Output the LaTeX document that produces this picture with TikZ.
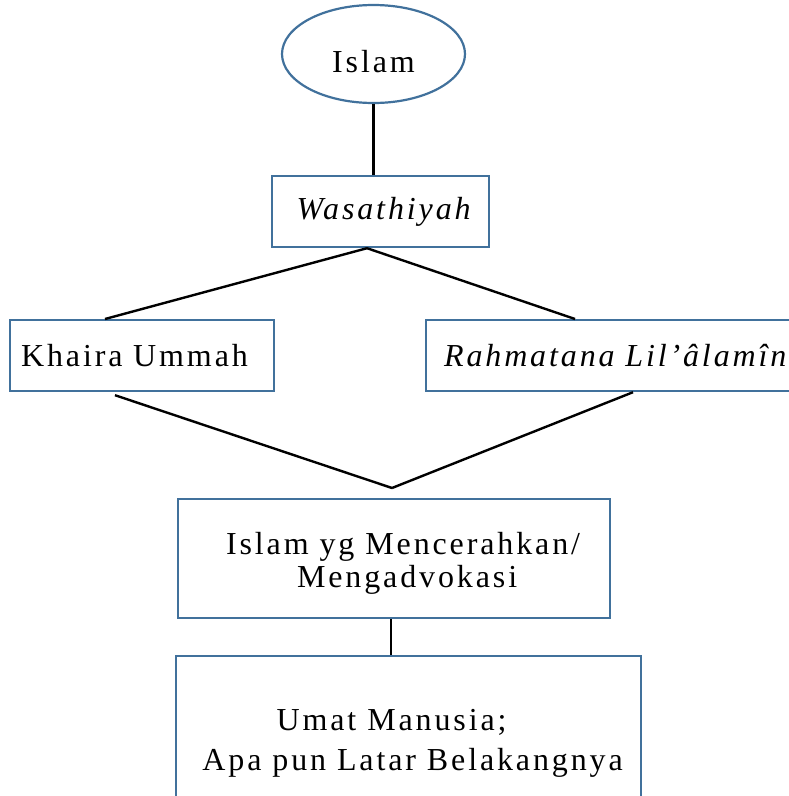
\documentclass[tikz,border=0pt]{standalone}
\usepackage{fontspec}
\setmainfont{Liberation Serif}[LetterSpace=9]
\usetikzlibrary{shapes.geometric,calc}
\definecolor{edgeblue}{RGB}{65,113,156}
\begin{document}
\begin{tikzpicture}[x=1pt,y=-1pt,
  txt/.style={font=\fontsize{32}{33}\selectfont, text=black},
  box/.style={txt, draw=edgeblue, line width=2.2pt, rectangle, inner sep=0pt, anchor=north west},
  oval/.style={txt, draw=edgeblue, line width=2.2pt, ellipse, inner sep=0pt},
  link/.style={draw=black, line width=2.4pt}]
\useasboundingbox (0,0) rectangle (789,796);
\clip (0,0) rectangle (789,796);

% top of the chart
\node[oval, minimum width=183pt, minimum height=98pt,
  label={[txt, yshift=-8pt]center:Islam}] (islam) at (373.5,54) {};
\node[box, minimum width=217pt, minimum height=71pt] (wasa) at (271,175) {\hspace*{6pt}\itshape Wasathiyah};

% the two branches
\node[box, minimum height=71pt, inner xsep=11pt, text width=242pt, align=left] (khaira) at (9,319) {Khaira Ummah};
\node[box, minimum height=71pt, inner xsep=18pt, text width=360pt, align=left] (rahma) at (425,319) {\itshape Rahmatana Lil’âlamîn};

% merging point and lower boxes
\coordinate (join) at (392,488);
\node[box, minimum width=432pt, minimum height=119pt,
  label={[txt, align=center, yshift=-5pt]center:\hspace*{18pt}Islam yg Mencerahkan/\\\hspace*{26pt}Mengadvokasi}] (adv) at (177,498) {};
\node[box, minimum width=465pt, minimum height=175pt, align=center] (umat) at (175,655)
  {Umat Manusia;\hspace*{34pt}\\[7pt]\hspace*{8pt}Apa pun Latar Belakangnya};

% connectors
\draw[link] (islam.south) -- (wasa.north -| islam.south);
\draw[link] ($(wasa.south west)+(96,0)$) -- ($(khaira.north west)+(96,0)$);
\draw[link] ($(wasa.south west)+(96,0)$) -- ($(rahma.north west)+(150,0)$);
\draw[link] ($(khaira.south west)+(106,3)$) -- (join);
\draw[link] ($(rahma.south west)+(208,0)$) -- (join);
\draw[link] (adv.south -| 391,0) -- (umat.north -| 391,0);
\end{tikzpicture}
\end{document}
